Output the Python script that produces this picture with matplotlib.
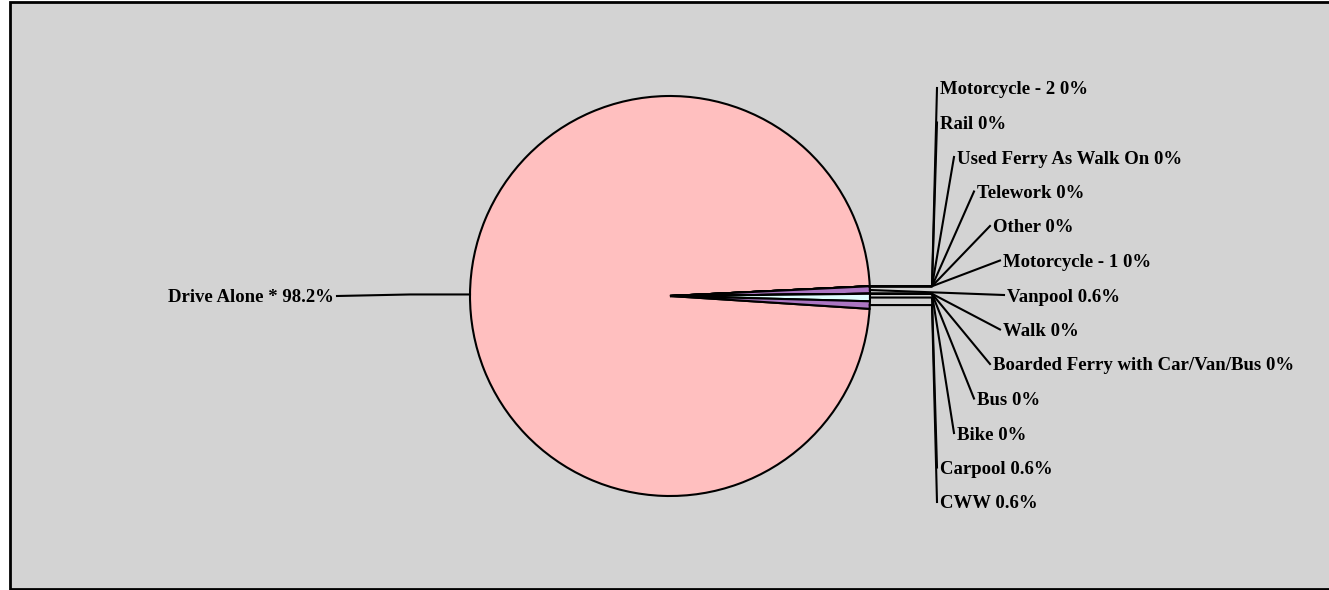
import matplotlib.pyplot as plt
import numpy as np
from matplotlib.patches import Rectangle

plt.rcParams['font.family'] = ['Liberation Serif', 'DejaVu Serif']

# --- data ---
modes = ['Drive Alone *', 'Motorcycle - 2', 'Rail', 'Used Ferry As Walk On', 'Telework',
         'Other', 'Motorcycle - 1', 'Vanpool', 'Walk', 'Boarded Ferry with Car/Van/Bus',
         'Bus', 'Bike', 'Carpool', 'CWW']
shares = [98.2, 0, 0, 0, 0, 0, 0, 0.6, 0, 0, 0, 0, 0.6, 0.6]
share_labels = ['98.2%', '0%', '0%', '0%', '0%', '0%', '0%', '0.6%', '0%', '0%', '0%', '0%',
                '0.6%', '0.6%']
colors = ['#FFBFBF', '#AC76C2', '#AC76C2', '#AC76C2', '#AC76C2', '#AC76C2', '#AC76C2',
          '#AC76C2', '#E0FFFF', '#E0FFFF', '#E0FFFF', '#E0FFFF', '#E0FFFF', '#AC76C2']

W, H = 1329, 590
cx, cy, R = 670, 296, 200   # pie centre / radius in pixels


def px(x, y):
    # pixel position -> data units (radius 1 = 200 px)
    return (x - cx) / R, (cy - y) / R


fig = plt.figure(figsize=(W / 100, H / 100), dpi=100, facecolor='white')
fig.patches.append(Rectangle((10 / W, 1 / H), (W - 8) / W, (H - 3) / H,
                             transform=fig.transFigure, facecolor='#D3D3D3',
                             edgecolor='black', linewidth=2, zorder=-1))
ax = fig.add_axes([0, 0, 1, 1])
ax.set_facecolor('none')

wedges, _ = ax.pie(shares, colors=colors, startangle=-3.68, counterclock=False,
                   radius=1, center=(0, 0),
                   wedgeprops=dict(edgecolor='black', linewidth=1.5))

x0, _ = px(0, 0)
x1, _ = px(W, 0)
_, y0 = px(0, H)
_, y1 = px(0, 0)
ax.set_aspect('auto')
ax.set_xlim(x0, x1)
ax.set_ylim(y0, y1)
ax.axis('off')

# label layout for the small slices (pixel positions of text left edge)
lab_y = [88 + i * 34.5 for i in range(13)]
lab_x = [940, 940, 957, 977, 993, 1003, 1007, 1003, 993, 977, 957, 940, 940]

fs = 13.5
dy = 2 / R   # nudge text down a little
for i, w in enumerate(wedges):
    mid = np.deg2rad((w.theta1 + w.theta2) / 2)
    ex, ey = np.cos(mid), np.sin(mid)
    text = modes[i] + ' ' + share_labels[i]
    if i == 0:
        ax.plot([ex, px(410, 0)[0], px(337, 0)[0]], [ey, ey, 0], color='black', lw=1.5)
        lx, ly = px(334, 296)
        ax.text(lx, ly - dy, text, ha='right', va='center', fontsize=fs,
                fontweight='bold')
        continue
    tx, ty = px(lab_x[i - 1], lab_y[i - 1])
    ex2 = px(932, 0)[0]
    if modes[i] == 'Vanpool':
        ax.plot([ex, tx - 0.015], [ey, ty], color='black', lw=1.5)
    else:
        ax.plot([ex, ex2, tx - 0.015], [ey, ey, ty], color='black', lw=1.5)
    ax.text(tx, ty - dy, text, ha='left', va='center', fontsize=fs, fontweight='bold')

fig.savefig('out.png', dpi=100, facecolor='white')
